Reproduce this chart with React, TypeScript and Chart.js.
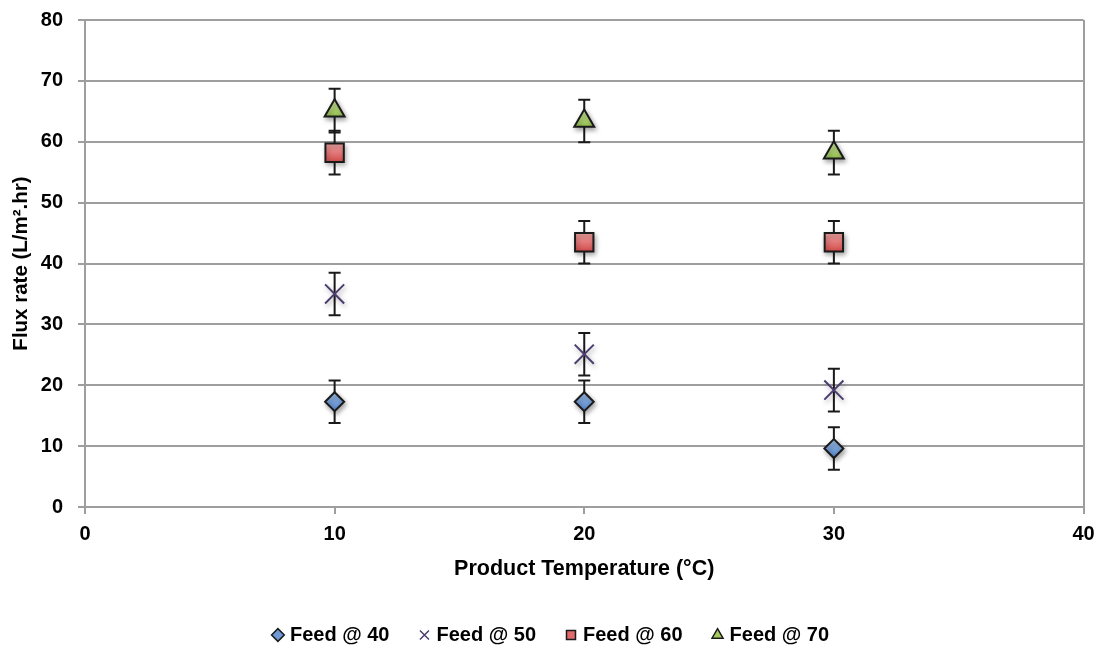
import React, { useEffect, useRef } from "react";
import { Chart, registerables } from "chart.js";

Chart.register(...registerables);

// Product temperature (°C) for each measurement
const temps = [10, 20, 30];

// Mean flux rate (L/m².hr) per feed temperature
const feed40 = [17.3, 17.3, 9.6];
const feed50 = [35.0, 25.1, 19.2];
const feed60 = [58.2, 43.5, 43.5];
const feed70 = [65.1, 63.4, 58.2];

// Symmetric error (±) per point
const err40 = [3.5, 3.5, 3.5];
const err50 = [3.5, 3.5, 3.5];
const err60 = [3.6, 3.5, 3.5];
const err70 = [3.6, 3.5, 3.6];

const seriesNames = ["Feed @ 40", "Feed @ 50", "Feed @ 60", "Feed @ 70"];
const xTicks = [0, 10, 20, 30, 40];
const yTicks = [0, 10, 20, 30, 40, 50, 60, 70, 80];

const FONT = "'Liberation Sans', Arial, sans-serif";
const GRID = "#9e9e9e";
const INK = "#1a1a1a";

// Marker fills: [top, bottom] of a vertical gradient, plus a flat colour for the legend
const fills = [
  { top: "#a2c3ec", bottom: "#5283c9", flat: "#6f9ad6" },
  { top: "#4b3d6e", bottom: "#4b3d6e", flat: "#4b3d6e" },
  { top: "#f4a5a5", bottom: "#d24c4c", flat: "#e06a6a" },
  { top: "#c8e493", bottom: "#8cbc44", flat: "#a4cc5c" },
];

const toPoints = (ys: number[], errs: number[]) =>
  temps.map((x, i) => ({ x, y: ys[i], err: errs[i] }));

const gradientFill = (idx: number, radius: number) => (c: any) => {
  const f = fills[idx];
  const ys = c.chart.scales && c.chart.scales.y;
  if (c.type !== "data" || !ys || !c.raw) return f.flat;
  const py = ys.getPixelForValue(c.raw.y);
  if (!isFinite(py)) return f.flat;
  const g = c.chart.ctx.createLinearGradient(0, py - radius, 0, py + radius);
  g.addColorStop(0, f.top);
  g.addColorStop(1, f.bottom);
  return g;
};

// Draws error bars behind the markers, then gives the markers a soft drop shadow
const errorBarsAndShadow = {
  id: "errorBarsAndShadow",
  afterLayout(chart: any) {
    const lg = chart.legend;
    if (lg) {
      lg.top += 7;
      lg.bottom += 7;
      lg.left += 10;
      lg.right += 10;
    }
  },
  beforeDatasetsDraw(chart: any) {
    const { ctx, scales } = chart;
    const xs = scales.x;
    const ys = scales.y;
    ctx.save();
    ctx.strokeStyle = INK;
    ctx.lineWidth = 2;
    chart.data.datasets.forEach((ds: any) => {
      ds.data.forEach((p: any) => {
        const px = xs.getPixelForValue(p.x);
        const top = ys.getPixelForValue(p.y + p.err);
        const bot = ys.getPixelForValue(p.y - p.err);
        const cap = 6;
        ctx.beginPath();
        ctx.moveTo(px, top);
        ctx.lineTo(px, bot);
        ctx.moveTo(px - cap, top);
        ctx.lineTo(px + cap, top);
        ctx.moveTo(px - cap, bot);
        ctx.lineTo(px + cap, bot);
        ctx.stroke();
      });
    });
    ctx.restore();
    ctx.save();
    ctx.shadowColor = "rgba(0,0,0,0.35)";
    ctx.shadowBlur = 5;
    ctx.shadowOffsetX = 1.5;
    ctx.shadowOffsetY = 2.5;
  },
  afterDatasetsDraw(chart: any) {
    chart.ctx.restore();
  },
};

export default function App() {
  const canvasRef = useRef<HTMLCanvasElement | null>(null);

  useEffect(() => {
    if (!canvasRef.current) return;
    const chart = new Chart(canvasRef.current, {
      type: "scatter",
      data: {
        datasets: [
          {
            label: seriesNames[0],
            data: toPoints(feed40, err40),
            pointStyle: "rectRot",
            pointRadius: 9.5,
            pointHoverRadius: 9.5,
            backgroundColor: gradientFill(0, 9.5),
            borderColor: INK,
            borderWidth: 2,
          },
          {
            label: seriesNames[1],
            data: toPoints(feed50, err50),
            pointStyle: "crossRot",
            pointRadius: 13.5,
            pointHoverRadius: 13.5,
            backgroundColor: fills[1].flat,
            borderColor: "#4b3d6e",
            borderWidth: 2,
          },
          {
            label: seriesNames[2],
            data: toPoints(feed60, err60),
            pointStyle: "rect",
            pointRadius: 13,
            pointHoverRadius: 13,
            backgroundColor: gradientFill(2, 9.5),
            borderColor: INK,
            borderWidth: 2,
          },
          {
            label: seriesNames[3],
            data: toPoints(feed70, err70),
            pointStyle: "triangle",
            pointRadius: 11.5,
            pointHoverRadius: 11.5,
            backgroundColor: gradientFill(3, 9),
            borderColor: INK,
            borderWidth: 2,
          },
        ],
      },
      options: {
        responsive: false,
        animation: false,
        layout: { padding: { left: 0, right: 14, top: 20, bottom: 0 } },
        plugins: {
          tooltip: { enabled: false },
          legend: {
            position: "bottom",
            labels: {
              usePointStyle: true,
              boxWidth: 4,
              boxHeight: 9,
              padding: 33,
              color: "#000",
              font: { family: FONT, size: 20, weight: "bold" },
              generateLabels: (ch: any) =>
                Chart.defaults.plugins.legend.labels
                  .generateLabels(ch)
                  .map((l: any, i: number) => ({ ...l, fillStyle: fills[i].flat, lineWidth: 1.5 })),
            },
          },
        },
        scales: {
          x: {
            type: "linear",
            min: 0,
            max: 40,
            afterBuildTicks: (s: any) => {
              s.ticks = xTicks.map((v) => ({ value: v }));
            },
            afterFit: (s: any) => {
              s.height = 78;
              s.paddingLeft = 0;
              s.paddingRight = 0;
            },
            ticks: {
              color: "#000",
              padding: 8,
              font: { family: FONT, size: 20, weight: "bold" },
            },
            grid: {
              color: (c: any) => (c.tick && c.tick.value === 40 ? GRID : "transparent"),
              tickColor: GRID,
              lineWidth: 2,
              tickLength: 7,
            },
            border: { display: true, color: GRID, width: 2 },
            title: {
              display: true,
              text: "Product Temperature (°C)",
              color: "#000",
              padding: { top: 0, bottom: 3 },
              font: { family: FONT, size: 21.5, weight: "bold" },
            },
          },
          y: {
            type: "linear",
            min: 0,
            max: 80,
            afterBuildTicks: (s: any) => {
              s.ticks = yTicks.map((v) => ({ value: v }));
            },
            afterFit: (s: any) => {
              s.width = 85;
              s.paddingTop = 0;
              s.paddingBottom = 0;
            },
            ticks: {
              color: "#000",
              padding: 15,
              font: { family: FONT, size: 20, weight: "bold" },
            },
            grid: {
              color: GRID,
              tickColor: GRID,
              lineWidth: 2,
              tickLength: 7,
            },
            border: { display: true, color: GRID, width: 2 },
            title: {
              display: true,
              text: "Flux rate (L/m².hr)",
              color: "#000",
              padding: { top: 9, bottom: 0 },
              font: { family: FONT, size: 20.5, weight: "bold" },
            },
          },
        },
      },
      plugins: [errorBarsAndShadow],
    });
    return () => chart.destroy();
  }, []);

  return (
    <div style={{ position: "fixed", left: 0, top: 0, width: 1099, height: 648, background: "#fff" }}>
      <canvas ref={canvasRef} width={1099} height={648} />
    </div>
  );
}
